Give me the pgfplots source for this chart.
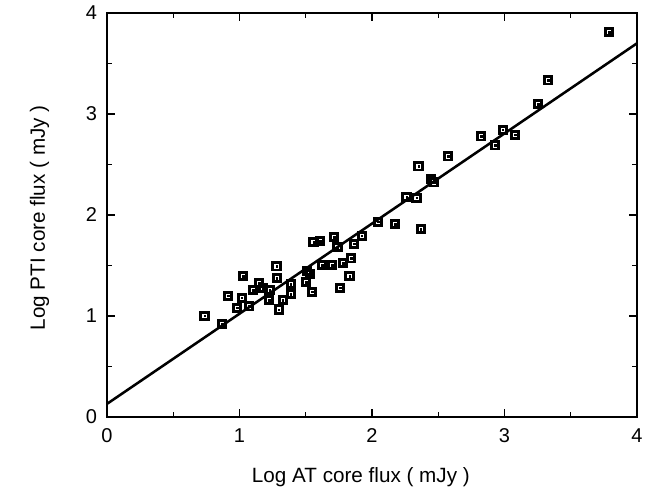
\documentclass[border=0pt]{standalone}
\usepackage{fontspec}
\setmainfont{Liberation Sans}
\usepackage{pgfplots}
\pgfplotsset{compat=1.18}
\usepackage{pgfplotstable}
\pgfplotstableread{
x y
0.736 1.003
0.870 0.924
0.915 1.201
1.029 1.394
1.017 1.181
0.981 1.082
1.072 1.095
1.104 1.257
1.149 1.325
1.177 1.277
1.226 1.257
1.223 1.158
1.279 1.491
1.281 1.374
1.296 1.065
1.326 1.158
1.386 1.315
1.386 1.218
1.507 1.444
1.532 1.414
1.504 1.335
1.549 1.241
1.558 1.731
1.608 1.743
1.625 1.505
1.700 1.505
1.713 1.780
1.740 1.681
1.758 1.280
1.783 1.525
1.842 1.570
1.830 1.394
1.864 1.716
1.922 1.795
2.048 1.934
2.174 1.911
2.260 2.176
2.336 2.171
2.368 1.861
2.351 2.481
2.444 2.359
2.466 2.323
2.575 2.580
2.823 2.778
2.928 2.689
2.986 2.845
3.079 2.795
3.255 3.099
3.330 3.333
3.789 3.812
}\datatable
\begin{document}
\begin{tikzpicture}
\path[use as bounding box] (-80.25pt,-56.25pt) rectangle (408.75pt,312.75pt);
\begin{axis}[
  at={(0,0)}, anchor=south west,
  scale only axis, width=397.5pt, height=303pt,
  xmin=0, xmax=4, ymin=0, ymax=4,
  xtick={0,1,2,3,4}, ytick={0,1,2,3,4}, minor tick num=1,
  tick align=inside, tick pos=both, ticklabel pos=left,
  major tick length=6pt, minor tick length=4pt,
  every tick/.style={black, line width=1.1pt},
  axis line style={line width=1.5pt},
  ticklabel style={font=\fontsize{15}{17}\selectfont},
  /pgf/number format/assume math mode=true,
  xticklabel style={yshift=-5pt},
  yticklabel style={xshift=-4pt},
  xlabel={Log AT core flux ( mJy )},
  ylabel={Log PTI core flux ( mJy )},
  label style={font=\fontsize{15.5}{18}\selectfont},
  xlabel style={at={(axis description cs:0.479,-0.161)}, anchor=base},
  ylabel style={at={(axis description cs:-0.117,0.493)}, anchor=base},
]
\addplot[only marks, mark=square, mark size=2.7pt, mark options={line width=2.2pt, draw=black, fill=white}] table[x=x,y=y] {\datatable};
\addplot[only marks, mark=square*, mark size=0.6pt, mark options={draw=black, fill=black, line width=0.2pt}] table[x=x,y=y] {\datatable};
\addplot[black, line width=1.9pt, no marks] coordinates {(0,0.13) (4,3.70)};
\end{axis}
\end{tikzpicture}
\end{document}
